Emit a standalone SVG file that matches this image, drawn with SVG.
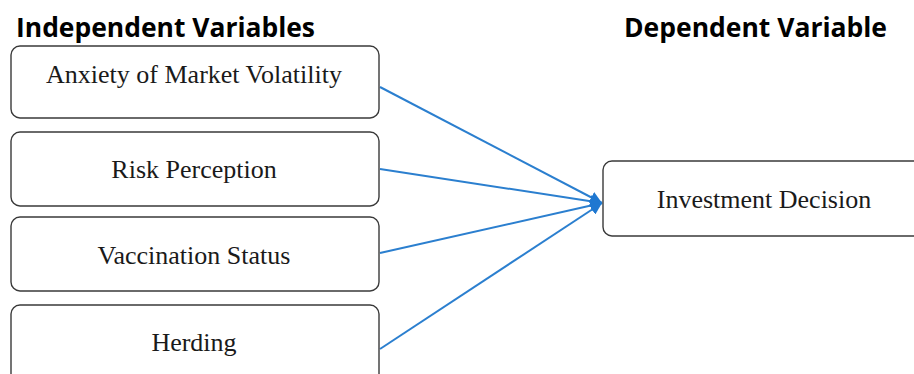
<svg xmlns="http://www.w3.org/2000/svg" width="914" height="374" viewBox="0 0 914 374">
<defs>
<style>
.box{fill:#fff;stroke:#3a3a3a;stroke-width:1.4}
.lbl{font-family:"Liberation Serif","Times New Roman",serif;font-size:26px;fill:#1a1a1a;text-anchor:middle}
.hdr{font-family:"Open Sans","Liberation Sans",sans-serif;font-weight:bold;font-size:26px;fill:#000}
.conn{stroke:#2b7fcf;stroke-width:2;fill:none}
</style>
<marker id="ah" viewBox="0 0 10 10" refX="10" refY="5" markerWidth="6" markerHeight="6" markerUnits="strokeWidth" orient="auto">
<path d="M0,0 L10,5 L0,10 z" fill="#1f78d1"/>
</marker>
</defs>
<rect width="914" height="374" fill="#fff"/>
<text class="hdr" x="16" y="37" textLength="299" lengthAdjust="spacingAndGlyphs">Independent Variables</text>
<text class="hdr" x="624" y="37" textLength="263" lengthAdjust="spacingAndGlyphs">Dependent Variable</text>
<g id="connectors">
<line class="conn" x1="380" y1="87" x2="602" y2="203" marker-end="url(#ah)"/>
<line class="conn" x1="380" y1="169" x2="602" y2="203" marker-end="url(#ah)"/>
<line class="conn" x1="380" y1="253" x2="602" y2="203" marker-end="url(#ah)"/>
<line class="conn" x1="380" y1="349" x2="602" y2="203" marker-end="url(#ah)"/>
</g>
<g id="anxiety">
<rect class="box" x="11" y="46" width="368" height="72" rx="9"/>
<text class="lbl" x="194" y="83">Anxiety of Market Volatility</text>
</g>
<g id="risk">
<rect class="box" x="11" y="132" width="368" height="74" rx="9"/>
<text class="lbl" x="194" y="178">Risk Perception</text>
</g>
<g id="vaccination">
<rect class="box" x="11" y="217" width="368" height="74" rx="9"/>
<text class="lbl" x="194" y="264">Vaccination Status</text>
</g>
<g id="herding">
<rect class="box" x="11" y="305" width="368" height="90" rx="9"/>
<text class="lbl" x="194" y="351">Herding</text>
</g>
<g id="decision">
<rect class="box" x="603" y="161" width="330" height="75" rx="9"/>
<text class="lbl" x="764" y="208">Investment Decision</text>
</g>
</svg>
